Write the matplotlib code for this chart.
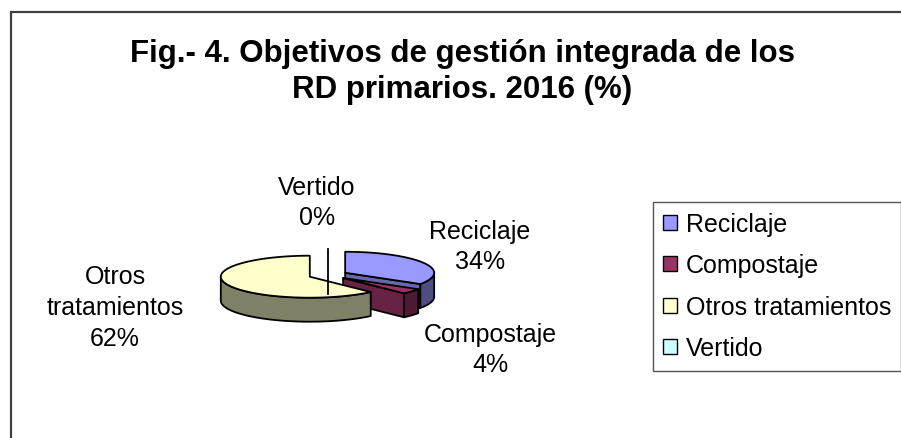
import numpy as np
import matplotlib.pyplot as plt
import matplotlib.colors as mcolors
from matplotlib.patches import Polygon, Patch

plt.rcParams['font.family'] = ['Liberation Sans', 'DejaVu Sans']

# Datos del gráfico
categorias = ['Reciclaje', 'Compostaje', 'Otros tratamientos', 'Vertido']
etiquetas_pie = ['Reciclaje', 'Compostaje', 'Otros\ntratamientos', 'Vertido']
valores = [34, 4, 62, 0]
colores = ['#9999FF', '#993366', '#FFFFCC', '#CCFFFF']
titulo = 'Fig.- 4. Objetivos de gestión integrada de los\nRD primarios. 2016 (%)'
encabezado = 'Figura 4. Objetivos de gestión integrada de los RD primarios. 2016 (%)'

# Geometría de la tarta 3D (en píxeles)
cx, cy = 328, 276
rx, ry, prof = 89, 21, 24
separacion = 0.22
orden_dibujo = [3, 0, 1, 2]  # de atrás hacia delante
pos_etiquetas = [(480, 247), (490, 350), (115, 308), (317, 203)]


def sombra(c, f):
    return tuple(np.array(mcolors.to_rgb(c)) * f)


def punto(x0, y0, th):
    return x0 + rx * np.sin(th), y0 - ry * np.cos(th)


fig = plt.figure(figsize=(9.01, 4.39), dpi=100)
ax = fig.add_axes([0, 0, 1, 1])
ax.set_xlim(0, 901)
ax.set_ylim(439, 0)
ax.axis('off')

# Marco del gráfico (cortado a la derecha y abajo)
ax.plot([11, 11, 910], [450, 13, 13], color='#404040', lw=1.6,
        solid_joinstyle='miter', clip_on=False)

# Encabezado cortado del documento (solo asoman los trazos descendentes)
ax.text(464, -7, encabezado, ha='center', va='baseline', fontsize=18.5,
        fontweight='bold', family=['Liberation Serif', 'DejaVu Serif'], clip_on=False)

ax.text(462, 72, titulo, ha='center', va='center', fontsize=22.5,
        fontweight='bold', linespacing=1.3)

total = sum(valores)
acum = np.concatenate([[0], np.cumsum(valores)]) / total * 2 * np.pi
kw = dict(edgecolor='black', linewidth=1.3, joinstyle='round')

for i in orden_dibujo:
    a0, a1 = acum[i], acum[i + 1]
    mid = (a0 + a1) / 2
    ox = cx + separacion * rx * np.sin(mid)
    oy = cy - separacion * ry * np.cos(mid)
    if valores[i] == 0:
        ax.plot([ox, ox], [oy - ry, oy + prof], color='black', lw=1.3)
        continue
    # caras radiales visibles
    for a, normal in [(a0, a0 - np.pi / 2), (a1, a1 + np.pi / 2)]:
        if np.cos(normal) < -1e-6:
            px, py = punto(ox, oy, a)
            ax.add_patch(Polygon([(ox, oy), (px, py), (px, py + prof), (ox, oy + prof)],
                                 facecolor=sombra(colores[i], 0.67), **kw))
    # lateral exterior
    lo, hi = max(a0, np.pi / 2), min(a1, 3 * np.pi / 2)
    if hi > lo:
        th = np.linspace(lo, hi, 80)
        xs, ys = punto(ox, oy, th)
        pts = list(zip(xs, ys)) + list(zip(xs[::-1], ys[::-1] + prof))
        ax.add_patch(Polygon(pts, facecolor=sombra(colores[i], 0.5), **kw))
    # cara superior
    th = np.linspace(a0, a1, 120)
    xs, ys = punto(ox, oy, th)
    ax.add_patch(Polygon([(ox, oy)] + list(zip(xs, ys)), facecolor=colores[i], **kw))

for i, (lx, ly) in enumerate(pos_etiquetas):
    ax.text(lx, ly, f'{etiquetas_pie[i]}\n{valores[i]}%', ha='center', va='center',
            fontsize=18, linespacing=1.35)

handles = [Patch(facecolor=c, edgecolor='black', linewidth=1.0) for c in colores]
leg = fig.legend(handles, categorias, loc='upper left',
                 bbox_to_anchor=(653 / 901, 1 - 203 / 439), fontsize=18,
                 frameon=True, fancybox=False, framealpha=1, edgecolor='#555555',
                 handlelength=0.56, handleheight=0.56, handletextpad=0.36,
                 labelspacing=0.7, borderpad=0.4, borderaxespad=0)
leg.get_frame().set_linewidth(1.0)

fig.savefig('out.png', dpi=100)
